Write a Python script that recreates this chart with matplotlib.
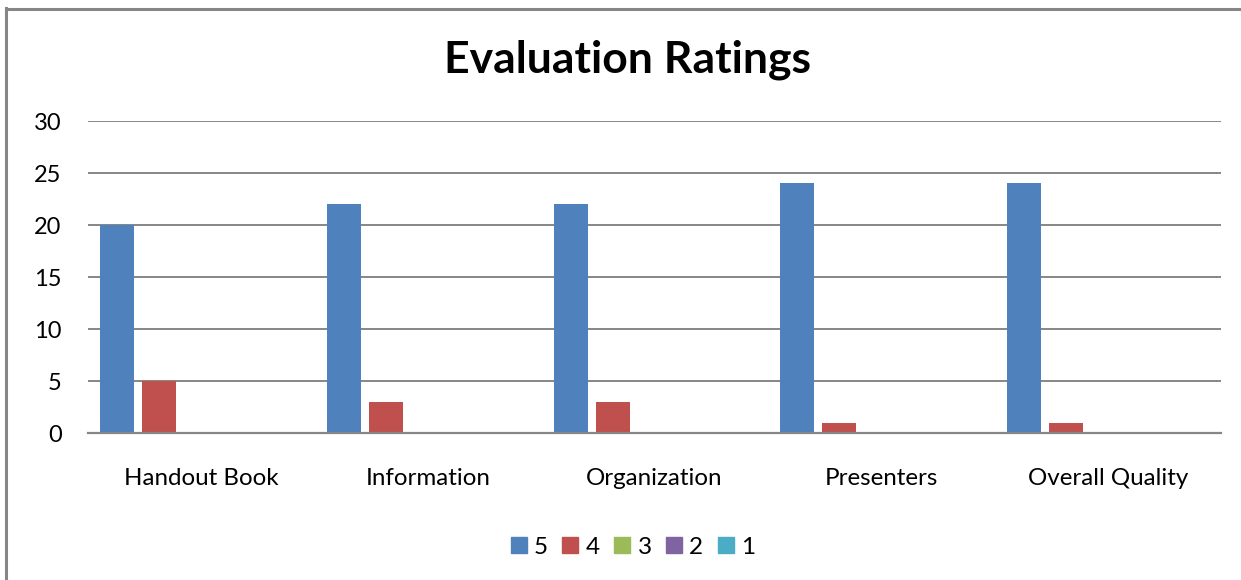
import numpy as np
import matplotlib
matplotlib.use("Agg")
import matplotlib.pyplot as plt
from matplotlib.lines import Line2D

plt.rcParams['font.family'] = ['Lato', 'DejaVu Sans']

categories = ['Handout Book', 'Information', 'Organization', 'Presenters', 'Overall Quality']
series_names = ['5', '4', '3', '2', '1']
rating5 = [20, 22, 22, 24, 24]
rating4 = [5, 3, 3, 1, 1]
rating3 = [0, 0, 0, 0, 0]
rating2 = [0, 0, 0, 0, 0]
rating1 = [0, 0, 0, 0, 0]
colors = ['#4F81BD', '#C0504D', '#9BBB59', '#8064A2', '#4BACC6']
yticks = [0, 5, 10, 15, 20, 25, 30]

fig = plt.figure(figsize=(12.41, 5.8), dpi=100)
ax = fig.add_axes([88/1241, 1-433/580, (1221-88)/1241, (433-121)/580])

x = np.arange(len(categories))
step = 42/226.6
width = 34/226.6
all_series = [rating5, rating4, rating3, rating2, rating1]
for i, vals in enumerate(all_series):
    ax.bar(x + (i-2)*step, vals, width, color=colors[i], linewidth=0, label=series_names[i], zorder=3)

ax.set_xlim(-0.5, len(categories)-0.5)
ax.set_ylim(0, 30)
ax.set_yticks(yticks)
ax.set_xticks(x)
ax.set_xticklabels(categories)
ax.grid(axis='y', color='#868686', linewidth=1.4, zorder=0)
for s in ['top', 'right', 'left']:
    ax.spines[s].set_visible(False)
ax.spines['bottom'].set_color('#868686')
ax.spines['bottom'].set_linewidth(1.6)
ax.spines['bottom'].set_zorder(4)
ax.tick_params(axis='y', length=0, pad=19, labelsize=17)
ax.tick_params(axis='x', length=0, pad=25, labelsize=17.4)

fig.text(628/1241, 1-60/580, 'Evaluation Ratings', ha='center', va='center',
         fontsize=32, fontweight='bold')

handles = [Line2D([], [], marker='s', linestyle='none', markersize=11,
                  markerfacecolor=c, markeredgecolor=c) for c in colors]
fig.legend(handles, series_names, loc='center', bbox_to_anchor=(633/1241, 1-547/580),
           ncol=5, frameon=False, fontsize=17.5, handletextpad=0.3, columnspacing=0.6,
           handlelength=0.65)

# chart border (left and top edges)
fig.add_artist(Line2D([6/1241, 6/1241], [0, 1-8/580], color='#868686', linewidth=2.2,
                      transform=fig.transFigure))
fig.add_artist(Line2D([6/1241, 1], [1-8.5/580, 1-8.5/580], color='#868686', linewidth=2.2,
                      transform=fig.transFigure))

fig.savefig('out.png', dpi=100)
